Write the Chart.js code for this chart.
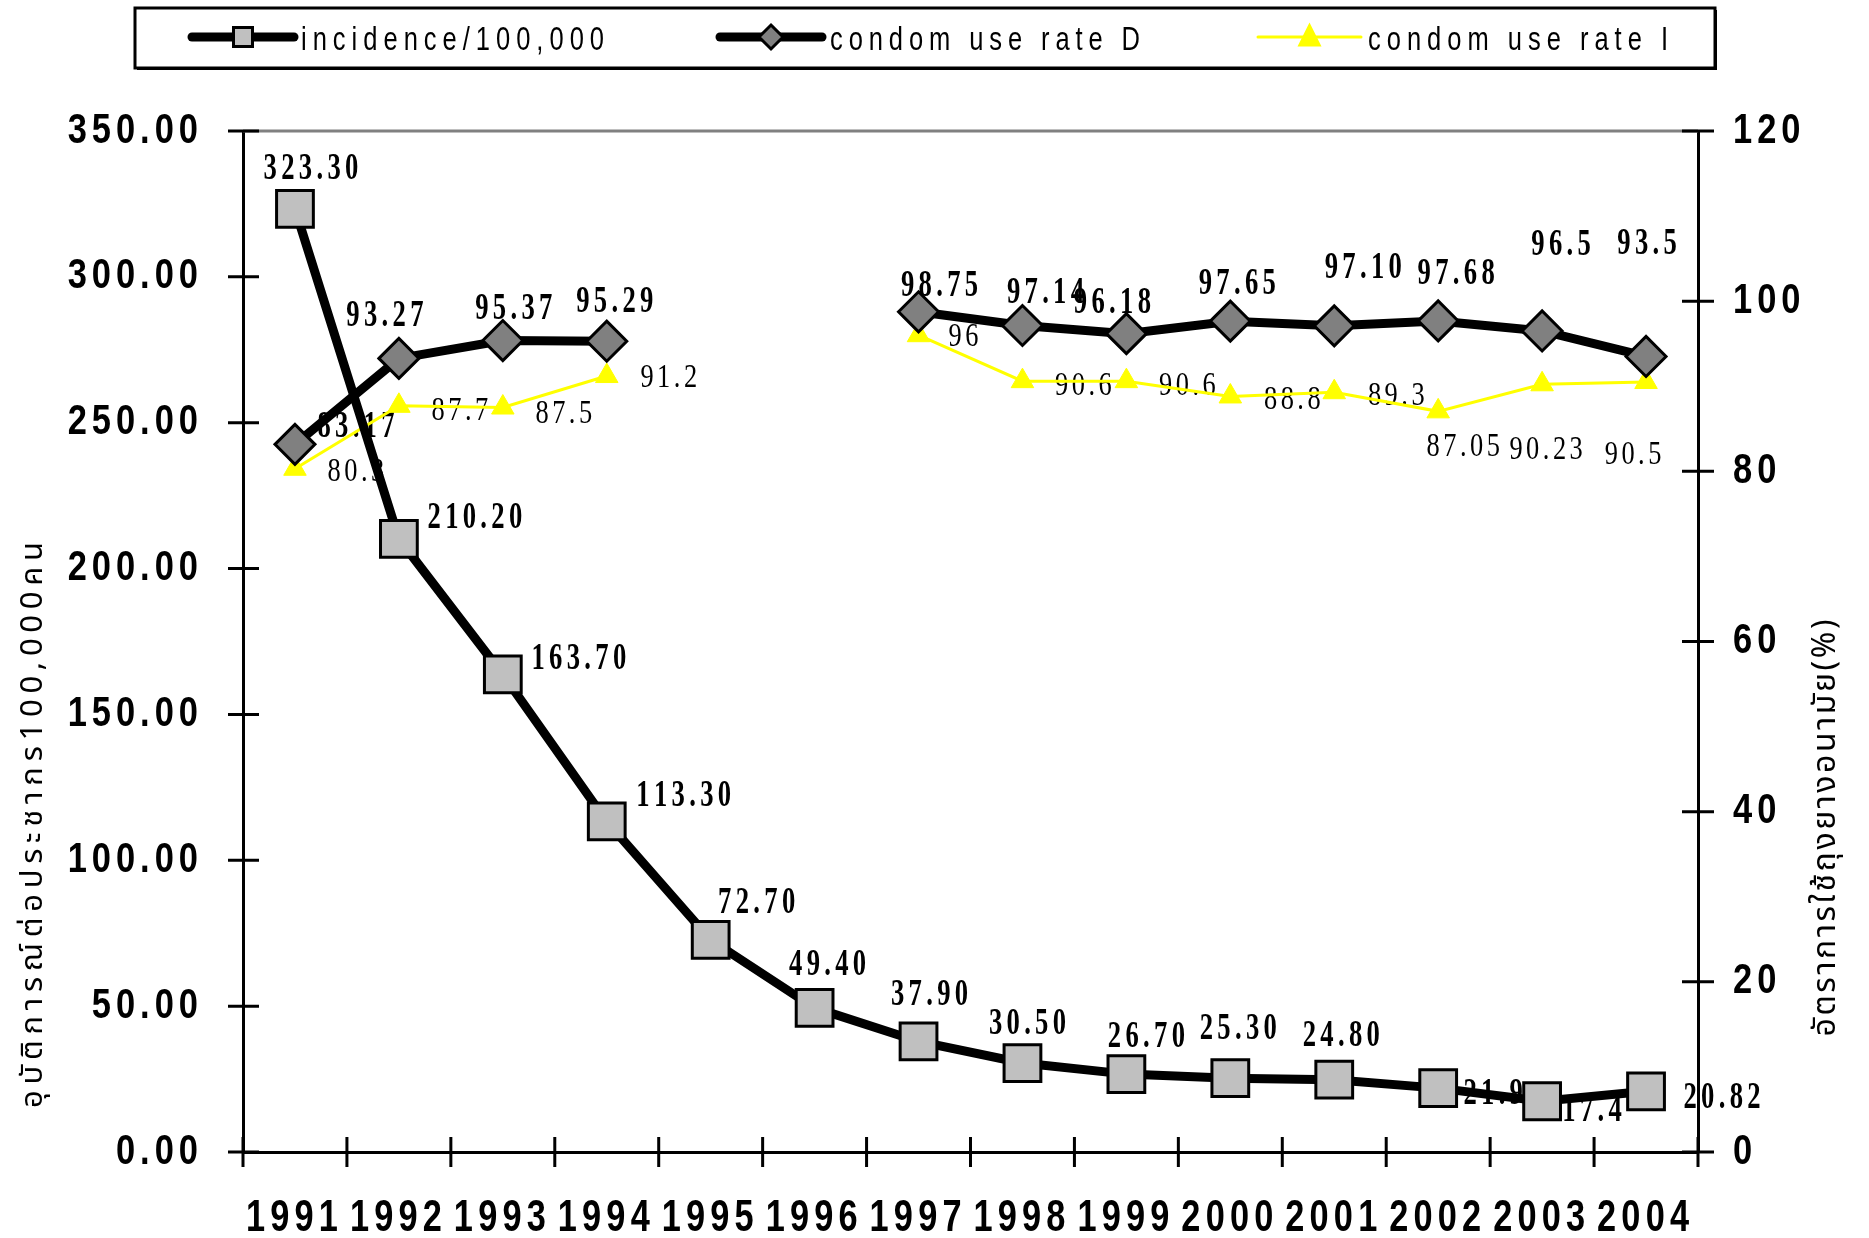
<!DOCTYPE html>
<html lang="th">
<head>
<meta charset="UTF-8">
<title>Incidence and condom use rate</title>
<script src="https://cdn.jsdelivr.net/npm/chart.js"></script>
<style>
  html, body { margin: 0; padding: 0; background: #fff; overflow: hidden; }
  canvas { display: block; }
</style>
</head>
<body>
<canvas id="chart" width="1869" height="1238"></canvas>
<script>
// ---- data ----
const years = ['1991', '1992', '1993', '1994', '1995', '1996', '1997', '1998', '1999', '2000', '2001', '2002', '2003', '2004'];
const incidence = [323.30, 210.20, 163.70, 113.30, 72.70, 49.40, 37.90, 30.50, 26.70, 25.30, 24.80, 21.9, 17.4, 20.82];
const useRateD = [83.17, 93.27, 95.37, 95.29, null, null, 98.75, 97.14, 96.18, 97.65, 97.10, 97.68, 96.5, 93.5];
const useRateI = [80.3, 87.7, 87.5, 91.2, null, null, 96, 90.6, 90.6, 88.8, 89.3, 87.05, 90.23, 90.5];

const incidenceText = ['323.30', '210.20', '163.70', '113.30', '72.70', '49.40', '37.90', '30.50', '26.70', '25.30', '24.80', '21.9', '17.4', '20.82'];
const useRateDText = ['83.17', '93.27', '95.37', '95.29', null, null, '98.75', '97.14', '96.18', '97.65', '97.10', '97.68', '96.5', '93.5'];
const useRateIText = ['80.3', '87.7', '87.5', '91.2', null, null, '96', '90.6', '90.6', '88.8', '89.3', '87.05', '90.23', '90.5'];

const seriesNames = ['incidence/100,000', 'condom use rate D', 'condom use rate I'];
const leftTitle = 'อุบัติการณ์ต่อประชากร100,000คน';
const rightTitle = 'อัตราการใช้ถุงยางอนามัย(%)';

// label placement (offset of label centre from its point)
const incidenceShift = [[16,-39],[76,-20],[76,-15],[77,-25],[46,-36],[13,-42],[11,-46],[5,-39],[20,-37],[8,-49],[7,-43],[55,6],[50,10],[76,7]];
const useRateDShift = [[61,-17],[-14,-42],[11,-31],[8,-39],null,null,[21,-25],[23,-32],[-14,-30],[7,-37],[29,-57],[18,-46],[19,-86],[1,-112]];
const useRateIShift = [[61,4],[61,6],[61,7],[62,2],null,null,[45,2],[61,5],[61,5],[62,4],[62,4],[25,36],[4,66],[-13,73]];

const SANS = "'Liberation Sans', Arial, sans-serif";
const SERIF = "'Liberation Serif', 'Times New Roman', serif";
const THAI = "'Noto Sans Thai', 'Noto Serif Thai', Garuda, Loma, Norasi, 'Tlwg Typo', sans-serif";

// draws condensed, letter-spaced text; keeps Thai marks with their base letter
function spaced(ctx, str, x, y, o) {
    ctx.save();
    ctx.font = o.font;
    ctx.fillStyle = o.color || '#000';
    ctx.textBaseline = 'middle';
    ctx.textAlign = 'left';
    const parts = str.match(/.[\u0E31\u0E34-\u0E3A\u0E47-\u0E4E]*/gu);
    const ws = parts.map(p => ctx.measureText(p).width * o.sx);
    const glyphs = ws.reduce((a, b) => a + b, 0);
    let gap = o.gap || 0;
    if (o.width) gap = (o.width - glyphs) / Math.max(parts.length - 1, 1);
    const total = glyphs + gap * (parts.length - 1);
    let cx = o.align === 'center' ? x - total / 2 : o.align === 'right' ? x - total : x;
    parts.forEach((p, i) => {
        ctx.save();
        ctx.translate(cx, y);
        ctx.scale(o.sx, 1);
        ctx.fillText(p, 0, 0);
        ctx.restore();
        cx += ws[i] + gap;
    });
    ctx.restore();
}

function marker(ctx, kind, x, y, size, fill, stroke) {
    ctx.save();
    ctx.beginPath();
    if (kind === 'rect') {
        ctx.rect(x - size / 2, y - size / 2, size, size);
    } else if (kind === 'diamond') {
        ctx.moveTo(x, y - size / 2); ctx.lineTo(x + size / 2, y);
        ctx.lineTo(x, y + size / 2); ctx.lineTo(x - size / 2, y);
        ctx.closePath();
    } else {
        ctx.moveTo(x, y - size * 0.6); ctx.lineTo(x + size / 2, y + size * 0.4);
        ctx.lineTo(x - size / 2, y + size * 0.4);
        ctx.closePath();
    }
    ctx.fillStyle = fill;
    ctx.fill();
    if (stroke) { ctx.lineWidth = 3; ctx.strokeStyle = stroke; ctx.stroke(); }
    ctx.restore();
}

const decor = {
    id: 'decor',
    beforeDatasetsDraw(chart) {
        const ctx = chart.ctx;
        const bold = { font: 'bold 37px ' + SERIF, sx: 0.72, gap: 4.3, align: 'center' };
        const plain = { font: '33px ' + SERIF, sx: 0.8, gap: 3.5, align: 'center' };
        const sets = [[incidenceText, incidenceShift, bold], [useRateDText, useRateDShift, bold], [useRateIText, useRateIShift, plain]];
        sets.forEach(([texts, shifts, style], di) => {
            const meta = chart.getDatasetMeta(di);
            texts.forEach((t, j) => {
                if (t === null) return;
                const p = meta.data[j];
                spaced(ctx, t, p.x + shifts[j][0], p.y + shifts[j][1], style);
            });
        });
    },
    afterDraw(chart) {
        const ctx = chart.ctx;
        const { left, right, top, bottom } = chart.chartArea;
        const sx = chart.scales.x, sy = chart.scales.y, sy1 = chart.scales.y1;

        ctx.save();
        ctx.strokeStyle = '#808080';
        ctx.lineWidth = 3;
        ctx.beginPath(); ctx.moveTo(left, top); ctx.lineTo(right, top); ctx.stroke();

        ctx.strokeStyle = '#000';
        ctx.lineWidth = 3;
        ctx.beginPath();
        sy.ticks.forEach(t => {
            const y = sy.getPixelForValue(t.value);
            ctx.moveTo(left - 15, y); ctx.lineTo(left + 16, y);
        });
        sy1.ticks.forEach(t => {
            const y = sy1.getPixelForValue(t.value);
            ctx.moveTo(right - 16, y); ctx.lineTo(right + 16, y);
        });
        const half = (sx.getPixelForValue(1) - sx.getPixelForValue(0)) / 2;
        for (let i = 0; i <= years.length; i++) {
            const x = sx.getPixelForValue(0) - half + i * half * 2;
            ctx.moveTo(x, bottom - 15); ctx.lineTo(x, bottom + 15);
        }
        ctx.stroke();
        ctx.restore();

        // tick labels
        const tickFont = { font: 'bold 42px ' + SANS, sx: 0.82, gap: 5 };
        sy.ticks.forEach(t => {
            spaced(ctx, t.value.toFixed(2), left - 45, sy.getPixelForValue(t.value), { ...tickFont, align: 'right' });
        });
        sy1.ticks.forEach(t => {
            spaced(ctx, String(t.value), right + 35, sy1.getPixelForValue(t.value), { ...tickFont, align: 'left' });
        });
        years.forEach((yr, i) => {
            spaced(ctx, yr, sx.getPixelForValue(i) - 3, bottom + 67, { font: 'bold 44px ' + SANS, sx: 0.78, gap: 5.2, align: 'center' });
        });

        // axis titles
        ctx.save();
        ctx.translate(36, 825);
        ctx.rotate(-Math.PI / 2);
        spaced(ctx, leftTitle, 0, 0, { font: '31px ' + THAI, sx: 1, width: 566, align: 'center' });
        ctx.restore();
        ctx.save();
        ctx.translate(1829, 828);
        ctx.rotate(-Math.PI / 2);
        spaced(ctx, rightTitle, 0, 0, { font: '32px ' + THAI, sx: 1, width: 417, align: 'center' });
        ctx.restore();

        // legend
        ctx.save();
        ctx.strokeStyle = '#000';
        ctx.lineWidth = 3;
        ctx.strokeRect(135, 8, 1580, 60);
        ctx.lineWidth = 2;
        ctx.beginPath(); ctx.moveTo(137, 69); ctx.lineTo(1716, 69); ctx.lineTo(1716, 10); ctx.stroke();
        const items = [
            { x0: 192, x1: 294, tx: 301, tw: 303, color: '#000', lw: 9, kind: 'rect', size: 19, fill: '#c0c0c0', stroke: '#000' },
            { x0: 720, x1: 822, tx: 830, tw: 310, color: '#000', lw: 9, kind: 'diamond', size: 24, fill: '#808080', stroke: '#000' },
            { x0: 1258, x1: 1361, tx: 1368, tw: 300, color: '#ffff00', lw: 3, kind: 'triangle', size: 24, fill: '#ffff00', stroke: null }
        ];
        items.forEach((it, i) => {
            ctx.strokeStyle = it.color;
            ctx.lineWidth = it.lw;
            ctx.lineCap = 'round';
            ctx.beginPath(); ctx.moveTo(it.x0, 37); ctx.lineTo(it.x1, 37); ctx.stroke();
            marker(ctx, it.kind, (it.x0 + it.x1) / 2, 37, it.size, it.fill, it.stroke);
            spaced(ctx, seriesNames[i], it.tx, 41, { font: '34px ' + SANS, sx: 0.75, width: it.tw, align: 'left' });
        });
        ctx.restore();
    }
};

const ctx = document.getElementById('chart').getContext('2d');
new Chart(ctx, {
    type: 'line',
    data: {
        labels: years,
        datasets: [
            {
                label: seriesNames[0],
                data: incidence,
                yAxisID: 'y',
                borderColor: '#000',
                borderWidth: 9,
                pointStyle: 'rect',
                pointRadius: 26,
                pointBackgroundColor: '#c0c0c0',
                pointBorderColor: '#000',
                pointBorderWidth: 3
            },
            {
                label: seriesNames[1],
                data: useRateD,
                yAxisID: 'y1',
                borderColor: '#000',
                borderWidth: 9,
                pointStyle: 'rectRot',
                pointRadius: 20,
                pointBackgroundColor: '#808080',
                pointBorderColor: '#000',
                pointBorderWidth: 3
            },
            {
                label: seriesNames[2],
                data: useRateI,
                yAxisID: 'y1',
                borderColor: '#ffff00',
                borderWidth: 3,
                pointStyle: 'triangle',
                pointRadius: 13,
                pointBackgroundColor: '#ffff00',
                pointBorderColor: '#ffff00',
                pointBorderWidth: 1
            }
        ]
    },
    options: {
        responsive: false,
        devicePixelRatio: 1,
        animation: false,
        events: [],
        spanGaps: false,
        layout: { padding: { top: 131, left: 0, right: 0, bottom: 0 } },
        plugins: {
            legend: { display: false },
            title: { display: false },
            tooltip: { enabled: false }
        },
        scales: {
            x: {
                offset: true,
                grid: { display: false },
                border: { display: true, color: '#000', width: 3 },
                ticks: { display: false },
                afterFit: s => { s.height = 86; }
            },
            y: {
                position: 'left',
                min: 0,
                max: 350,
                ticks: { display: false, stepSize: 50 },
                grid: { display: false },
                border: { display: true, color: '#000', width: 3 },
                afterFit: s => { s.width = 243; }
            },
            y1: {
                position: 'right',
                min: 0,
                max: 120,
                ticks: { display: false, stepSize: 20 },
                grid: { display: false },
                border: { display: true, color: '#000', width: 3 },
                afterFit: s => { s.width = 171; }
            }
        }
    },
    plugins: [decor]
});
</script>
</body>
</html>
